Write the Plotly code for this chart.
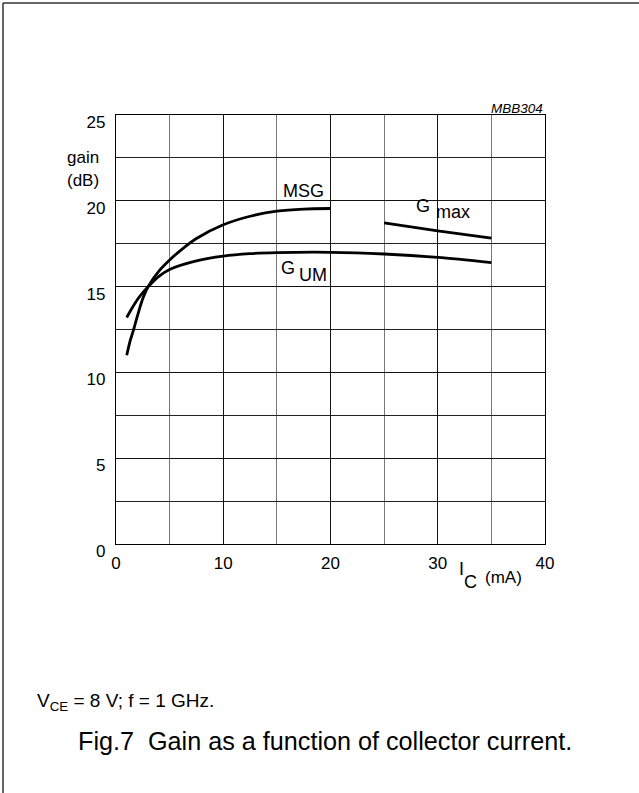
import plotly.graph_objects as go

# ---- data ----
msg_x = [1.0, 1.3, 1.6, 2.0, 2.5, 3.0, 4.0, 5.0, 6.0, 7.5, 10, 12.5, 15, 17.5, 20]
msg_y = [11.0, 11.8, 12.4, 13.3, 14.3, 15.0, 15.9, 16.55, 17.1, 17.8, 18.6, 19.1, 19.4, 19.52, 19.55]

gum_x = [1.0, 1.5, 2.0, 2.5, 3.0, 4.0, 5.0, 7.5, 10, 12.5, 15, 20, 25, 30, 35]
gum_y = [13.2, 13.75, 14.25, 14.65, 15.0, 15.6, 16.0, 16.5, 16.78, 16.92, 16.98, 17.0, 16.9, 16.7, 16.4]

gmax_x = [25, 30, 35]
gmax_y = [18.72, 18.25, 17.83]

x_ticks = [0, 10, 20, 30, 40]
y_ticks = [0, 5, 10, 15, 20, 25]

W, H = 639, 793
L, R, T, B = 116, 545, 115, 544
FONT = "Liberation Sans, Arial, sans-serif"
FS = 17


def px(xp):
    return (xp - L) / (R - L)


def py(yp):
    return (B - yp) / (B - T)


fig = go.Figure()
line = dict(color="black", width=2.8, shape="spline", smoothing=0.8)
fig.add_trace(go.Scatter(x=msg_x, y=msg_y, mode="lines", line=line, hoverinfo="skip"))
fig.add_trace(go.Scatter(x=gum_x, y=gum_y, mode="lines", line=line, hoverinfo="skip"))
fig.add_trace(go.Scatter(x=gmax_x, y=gmax_y, mode="lines", line=line, hoverinfo="skip"))

fig.update_layout(
    width=W, height=H,
    margin=dict(l=L, r=W - R, t=T, b=H - B, pad=0),
    paper_bgcolor="white", plot_bgcolor="white",
    showlegend=False,
    font=dict(family=FONT, color="black", size=FS),
)
fig.update_xaxes(
    range=[0, 40], tickvals=x_ticks, ticks="", showgrid=True, gridcolor="#111", gridwidth=1,
    minor=dict(dtick=5, tick0=0, showgrid=True, gridcolor="#777", gridwidth=1.2),
    showline=True, linecolor="black", linewidth=1.2, mirror=True, zeroline=False,
    tickfont=dict(size=FS, family=FONT), ticklabelstandoff=3,
)
fig.update_yaxes(
    range=[0, 25], tickvals=y_ticks, ticks="", showgrid=True, gridcolor="#111", gridwidth=1,
    minor=dict(dtick=2.5, tick0=0, showgrid=True, gridcolor="#222", gridwidth=1),
    showline=True, linecolor="black", linewidth=1.2, mirror=True, zeroline=False,
    tickfont=dict(size=FS, family=FONT), ticklabelstandoff=6, ticklabelshift=7,
)


def t(xp, yp, text, size=FS, xanchor="center", **kw):
    return dict(x=px(xp), y=py(yp), xref="paper", yref="paper", text=text, showarrow=False,
                xanchor=xanchor, yanchor="middle", font=dict(size=size, family=FONT), **kw)


ann = [
    # curve labels
    t(303, 191, "MSG", 18),
    t(288, 268, "G", 18), t(312.5, 275, "UM", 18),
    t(423, 206, "G", 18), t(452.5, 212, "max", 18),
    # axis titles
    t(83, 157, "gain", 17), t(83, 180, "(dB)", 17),
    t(461, 569, "I", 18), t(470.5, 582, "C", 18), t(503, 577, "(mA)", 17),
    # code
    t(545, 108, "<i>MBB304</i>", 13.5, xanchor="right"),
    # footnote and caption
    t(35, 702, "V<sub>CE</sub> = 8 V; f = 1 GHz.", 19, xanchor="left"),
    t(76, 741, "Fig.7  Gain as a function of collector current.", 25.2, xanchor="left"),
]
fig.update_layout(annotations=ann)

# white box behind the G_max label (hides the grid)
fig.add_shape(type="rect", xref="paper", yref="paper", x0=px(408), x1=px(482), y0=py(224),
              y1=py(196), fillcolor="white", line=dict(width=0), layer="between")

# outer frame (left and top edges)
fig.add_shape(type="line", xref="paper", yref="paper", x0=px(3), x1=px(3), y0=py(3), y1=py(800),
              line=dict(color="#333", width=1.5))
fig.add_shape(type="line", xref="paper", yref="paper", x0=px(3), x1=px(650), y0=py(3), y1=py(3),
              line=dict(color="#333", width=1.5))

fig.write_html("out.html", config={"displayModeBar": False},
               post_script="document.body.style.margin='0';document.body.style.overflow='hidden';")
